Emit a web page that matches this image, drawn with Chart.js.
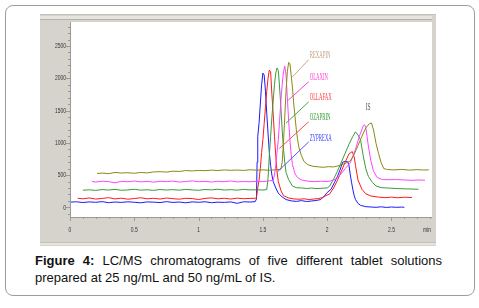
<!DOCTYPE html>
<html>
<head>
<meta charset="utf-8">
<script src="https://cdn.jsdelivr.net/npm/chart.js@4"></script>
<style>
body{margin:0;background:#fff;width:479px;height:308px;position:relative;overflow:hidden;font-family:"Liberation Sans",Arial,sans-serif}
#box{position:absolute;left:5px;top:5px;width:468px;height:289px;border:1px solid #9c9c9c;border-radius:8px}
#wrap{position:absolute;left:40px;top:14px;width:396px;height:232px}
#cap{position:absolute;left:35px;top:253px;width:407px;font-size:13px;line-height:16.5px;text-align:justify;text-align-last:left;color:#111}
</style>
</head>
<body>
<div id="box"></div>
<div id="wrap"><canvas id="lcms"></canvas></div>
<div id="cap"><b>Figure 4:</b> LC/MS chromatograms of five different tablet solutions prepared at 25 ng/mL and 50 ng/mL of IS.</div>
<script>
// [time (min), intensity]
const zyprexa = [[0,80],[0.05,86],[0.1,74],[0.15,84],[0.2,78],[0.25,88],[0.3,72],[0.35,82],[0.4,76],[0.45,86],[0.5,78],[0.55,70],[0.6,84],[0.65,80],[0.7,74],[0.75,88],[0.8,76],[0.85,82],[0.9,70],[0.95,84],[1.0,78],[1.05,86],[1.1,72],[1.15,80],[1.2,76],[1.25,84],[1.3,62],[1.35,86],[1.4,82],
  [1.44,88],[1.45,130],[1.455,700],[1.46,1100],[1.47,1300],[1.48,1600],[1.49,1900],[1.5,2080],[1.51,2050],[1.52,1800],[1.53,1450],[1.54,1150],[1.55,850],[1.56,650],[1.57,500],[1.58,400],[1.6,300],[1.62,220],[1.65,160],[1.68,120],
  [1.72,100],[1.76,92],[1.8,104],[1.84,90],[1.88,98],[1.92,108],[1.95,120],
  [1.98,180],[2.0,230],[2.03,280],[2.06,400],[2.08,480],[2.1,580],[2.12,700],[2.14,710],[2.16,705],[2.17,640],[2.18,500],[2.19,380],[2.2,270],[2.21,180],[2.22,120],[2.24,60],[2.26,30],
  [2.3,10],[2.34,5],[2.38,0],[2.42,8],[2.46,-2],[2.5,5],[2.54,0],[2.58,4],[2.6,0]];
const ollafax = [[0.06,140],[0.1,132],[0.15,145],[0.2,128],[0.25,138],[0.3,150],[0.35,130],[0.4,142],[0.45,126],[0.5,136],[0.55,148],[0.6,132],[0.65,140],[0.7,128],[0.75,144],[0.8,134],[0.85,126],[0.9,140],[0.95,136],[1.0,120],[1.05,138],[1.1,146],[1.15,132],[1.2,140],[1.25,128],[1.3,142],[1.35,134],[1.4,138],[1.44,140],
  [1.45,150],[1.46,300],[1.47,420],[1.48,600],[1.49,850],[1.5,1050],[1.51,1300],[1.52,1550],[1.53,1800],[1.54,2000],[1.55,2127],[1.56,2100],[1.57,1750],[1.58,1450],[1.59,1100],[1.6,800],[1.61,550],[1.62,400],[1.64,260],[1.66,180],[1.7,145],[1.74,130],[1.78,125],[1.82,132],[1.86,120],[1.9,130],[1.93,135],
  [1.96,150],[1.99,180],[2.02,210],[2.05,300],[2.08,420],[2.11,560],[2.14,700],[2.17,830],[2.195,864],[2.21,780],[2.22,650],[2.24,420],[2.27,280],[2.3,210],[2.34,175],[2.4,158],[2.45,150],[2.5,158],[2.55,148],[2.6,156],[2.66,152]];
const ozaprin = [[0.1,265],[0.15,272],[0.2,262],[0.25,275],[0.3,268],[0.35,278],[0.4,264],[0.45,270],[0.5,280],[0.55,266],[0.6,272],[0.65,262],[0.7,276],[0.75,268],[0.8,274],[0.85,266],[0.9,278],[0.95,270],[1.0,264],[1.05,276],[1.1,270],[1.15,280],[1.2,268],[1.25,274],[1.3,266],[1.35,278],[1.4,270],[1.45,272],[1.5,268],
  [1.53,275],[1.54,450],[1.55,800],[1.56,1100],[1.57,1400],[1.58,1650],[1.59,1900],[1.6,2080],[1.61,2160],[1.62,2120],[1.63,1850],[1.64,1550],[1.65,1200],[1.66,900],[1.67,700],[1.68,540],[1.7,430],[1.73,330],[1.76,305],[1.8,300],[1.84,292],[1.88,298],[1.92,290],[1.96,296],
  [2.0,300],[2.02,330],[2.05,440],[2.08,560],[2.11,700],[2.14,840],[2.17,980],[2.2,1100],[2.22,1170],[2.24,1120],[2.26,1040],[2.28,800],[2.3,600],[2.32,480],[2.35,390],[2.38,330],[2.42,305],[2.48,298],[2.55,290],[2.62,285],[2.71,280]];
const olaxin = [[0.17,400],[0.2,392],[0.25,405],[0.3,398],[0.35,380],[0.4,402],[0.45,396],[0.5,408],[0.55,394],[0.6,402],[0.65,390],[0.7,404],[0.75,398],[0.8,406],[0.85,392],[0.9,400],[0.95,410],[1.0,396],[1.05,402],[1.1,392],[1.15,404],[1.2,398],[1.25,408],[1.3,394],[1.35,400],[1.4,396],[1.45,404],[1.5,398],[1.55,410],
  [1.58,420],[1.59,500],[1.6,650],[1.61,850],[1.62,1050],[1.63,1350],[1.64,1650],[1.65,1900],[1.66,2100],[1.67,2190],[1.68,2050],[1.69,1700],[1.7,1350],[1.71,1050],[1.72,820],[1.73,660],[1.75,520],[1.77,460],[1.8,425],[1.85,405],[1.9,398],[1.95,404],[2.0,400],
  [2.03,410],[2.06,430],[2.1,500],[2.14,600],[2.18,690],[2.22,900],[2.25,1100],[2.28,1260],[2.29,1280],[2.3,1240],[2.31,1100],[2.32,950],[2.34,720],[2.36,560],[2.39,460],[2.43,430],[2.48,428],[2.54,430],[2.6,424],[2.66,418],[2.71,424],[2.76,420]];
const rexapin = [[0.21,525],[0.25,530],[0.3,522],[0.35,540],[0.4,532],[0.45,536],[0.5,528],[0.55,540],[0.6,534],[0.65,548],[0.7,552],[0.75,546],[0.8,560],[0.85,556],[0.9,570],[0.95,564],[1.0,572],[1.05,568],[1.1,576],[1.15,570],[1.2,580],[1.25,574],[1.3,578],[1.35,572],[1.4,582],[1.45,576],[1.5,580],[1.55,574],[1.6,582],
  [1.64,590],[1.65,700],[1.66,1000],[1.67,1400],[1.68,1800],[1.69,2100],[1.7,2245],[1.71,2230],[1.72,2050],[1.73,1850],[1.74,1600],[1.75,1400],[1.76,1200],[1.77,1050],[1.78,930],[1.8,800],[1.82,710],[1.85,660],[1.89,635],[1.93,628],[1.97,620],[2.01,630],[2.05,626],
  [2.1,650],[2.14,680],[2.18,720],[2.21,820],[2.24,960],[2.27,1100],[2.3,1230],[2.33,1300],[2.345,1305],[2.36,1200],[2.38,990],[2.4,830],[2.42,690],[2.44,600],[2.47,585],[2.52,580],[2.58,588],[2.64,576],[2.7,584],[2.75,578],[2.79,580]];

const yTicks = [0, 500, 1000, 1500, 2000, 2500];
const xTicks = [0, 0.5, 1, 1.5, 2, 2.5];
const xUnit = 'min';

const labelNames = ['REXAPIN', 'OLAXIN', 'OLLAFAX', 'OZAPRIN', 'ZYPREXA'];
const labelTime = [1.856, 1.856, 1.856, 1.856, 1.856];
const labelSignal = [2287, 1946, 1635, 1325, 1014];
const pointerTime = [1.729, 1.697, 1.68, 1.627, 1.613];
const pointerSignal = [2020, 1660, 1304, 910, 550];
const isLabel = ['IS', 2.319, 1547];

const lineColors = ['#8a8a10', '#ff44ff', '#3c9a3c', '#ff1a1a', '#1a1aff'];
const textColors = ['#c4a084', '#ff3fcf', '#ff4040', '#3a9a3a', '#3f3fff'];
const leaderColors = ['#c8a488', '#ff40d0', '#45a845', '#ff5050', '#5555ff'];

function narrowText(ctx, txt, x, y, sx, align) {
  ctx.save();
  ctx.translate(x, y);
  ctx.scale(sx, 1);
  ctx.textAlign = align;
  ctx.fillText(txt, 0, 0);
  ctx.restore();
}

const framePlugin = {
  id: 'frame',
  beforeDraw(chart) {
    const {ctx, chartArea: a, width, height} = chart;
    ctx.save();
    ctx.fillStyle = '#d6d3cc';
    ctx.fillRect(0, 0, width, height);
    ctx.fillStyle = '#c4c1ba';
    ctx.fillRect(0, 0, width, 1);
    ctx.fillStyle = '#e6e4df';
    ctx.fillRect(0, 2, width - 4, 3);
    ctx.fillStyle = '#b4b1aa';
    ctx.fillRect(0, 5, width - 4, 1);
    ctx.fillStyle = '#c4c1ba';
    ctx.fillRect(0, height - 4, width, 1);
    ctx.fillStyle = '#e6e4df';
    ctx.fillRect(0, height - 3, width, 2);
    ctx.fillStyle = '#fff';
    ctx.fillRect(a.left, a.top, a.right - a.left, a.bottom - a.top);
    ctx.restore();
  },
  afterDatasetsDraw(chart) {
    const {ctx, chartArea: a} = chart;
    const xs = chart.scales.x, ys = chart.scales.y;
    ctx.save();
    ctx.strokeStyle = '#9a9a9a';
    ctx.lineWidth = 1;
    ctx.beginPath();
    ctx.moveTo(a.left + 0.5, a.top);
    ctx.lineTo(a.left + 0.5, a.bottom + 0.5);
    ctx.lineTo(a.right, a.bottom + 0.5);
    ctx.stroke();
    // ticks
    ctx.beginPath();
    for (let v = -100; v <= 2800; v += 100) {
      const y = Math.round(ys.getPixelForValue(v)) + 0.5;
      const len = v % 500 === 0 ? 4 : 2;
      ctx.moveTo(a.left - len, y);
      ctx.lineTo(a.left, y);
    }
    for (let i = 0; i <= 28; i++) {
      const x = Math.round(xs.getPixelForValue(i / 10)) + 0.5;
      const len = i % 5 === 0 ? 4 : 2;
      ctx.moveTo(x, a.bottom);
      ctx.lineTo(x, a.bottom + len);
    }
    ctx.stroke();
    ctx.fillStyle = '#333';
    ctx.font = '8px "Liberation Sans", Arial, sans-serif';
    ctx.textBaseline = 'middle';
    yTicks.forEach(v => narrowText(ctx, String(v), a.left - 4, ys.getPixelForValue(v), 0.62, 'right'));
    xTicks.forEach(v => narrowText(ctx, String(v), xs.getPixelForValue(v), a.bottom + 13, 0.62, 'center'));
    narrowText(ctx, xUnit, a.right - 5, a.bottom + 13, 0.62, 'center');
    // peak labels and leader lines
    ctx.font = '10px "Liberation Serif", serif';
    labelNames.forEach((name, i) => {
      const x0 = xs.getPixelForValue(labelTime[i]);
      const y0 = ys.getPixelForValue(labelSignal[i]);
      ctx.strokeStyle = leaderColors[i];
      ctx.beginPath();
      ctx.moveTo(x0, y0);
      ctx.lineTo(xs.getPixelForValue(pointerTime[i]), ys.getPixelForValue(pointerSignal[i]));
      ctx.stroke();
      ctx.fillStyle = textColors[i];
      narrowText(ctx, name, x0 + 1, y0 - 4, 0.48, 'left');
    });
    ctx.fillStyle = '#555';
    narrowText(ctx, isLabel[0], xs.getPixelForValue(isLabel[1]), ys.getPixelForValue(isLabel[2]), 0.55, 'center');
    ctx.restore();
  }
};

const series = [rexapin, olaxin, ozaprin, ollafax, zyprexa];
new Chart(document.getElementById('lcms'), {
  type: 'line',
  data: {
    datasets: series.map((s, i) => ({
      label: labelNames[i],
      data: s.map(p => ({x: p[0], y: p[1]})),
      borderColor: lineColors[i],
      borderWidth: 1,
      pointRadius: 0,
      tension: 0,
      fill: false
    }))
  },
  options: {
    responsive: true,
    maintainAspectRatio: false,
    animation: false,
    events: [],
    layout: {padding: {left: 30, top: 8, right: 4, bottom: 29}},
    plugins: {legend: {display: false}, tooltip: {enabled: false}},
    scales: {
      x: {type: 'linear', min: 0, max: 2.815, display: false},
      y: {type: 'linear', min: -150, max: 2872, display: false}
    }
  },
  plugins: [framePlugin]
});
</script>
</body>
</html>
